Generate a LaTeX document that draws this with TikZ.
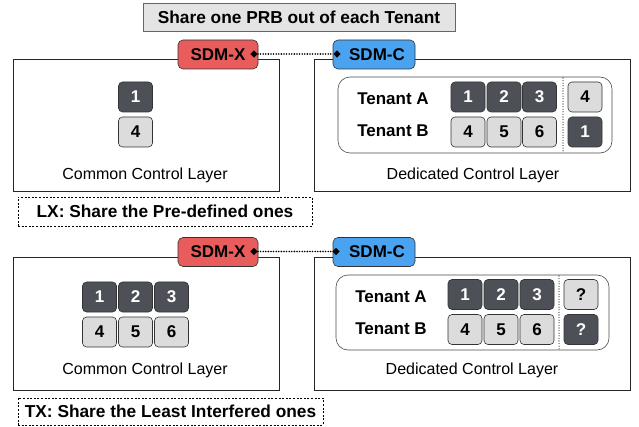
\documentclass[tikz,border=0pt]{standalone}
\usepackage{fontspec}
\setmainfont{Liberation Sans}
\usetikzlibrary{shapes.geometric}
\definecolor{sqdark}{HTML}{4D5157}
\definecolor{sqlight}{HTML}{DCDCDC}
\definecolor{sdmred}{HTML}{E85C5C}
\definecolor{sdmblue}{HTML}{4AA3F0}
\definecolor{titlegray}{HTML}{E4E4E4}
\tikzset{
  sq/.style={draw=black!80, rounded corners=4pt, minimum width=34pt, minimum height=30pt, inner sep=0pt, font=\fontsize{17}{17}\selectfont\bfseries, line width=0.6pt},
  dsq/.style={sq, fill=sqdark, text=white},
  lsq/.style={sq, fill=sqlight, text=black},
  tag/.style={draw=black!80, rounded corners=5pt, minimum height=29pt, inner sep=0pt, font=\fontsize{17}{17}\selectfont\bfseries, line width=0.6pt},
  layerbox/.style={draw=black!85, line width=1pt, fill=white},
  innerbox/.style={draw=black!70, rounded corners=12pt, line width=0.6pt},
  layertxt/.style={font=\fontsize{16}{16}\selectfont},
  tentxt/.style={font=\fontsize{17}{17}\selectfont\bfseries},
  notebox/.style={draw=black, dash pattern=on 2pt off 1.6pt, line width=0.8pt, font=\fontsize{17.3}{17.3}\selectfont\bfseries, inner sep=0pt},
  dmark/.style={diamond, fill=black, inner sep=0pt, minimum width=7.5pt, minimum height=7.5pt},
  dotlink/.style={line cap=round, dash pattern=on 0pt off 2.6pt, line width=1.8pt},
  sep/.style={line cap=round, dash pattern=on 0pt off 2.6pt, line width=1.1pt}
}
\begin{document}
\begin{tikzpicture}[x=1pt,y=-1pt]
\useasboundingbox (0,0) rectangle (639,427);
% title
\node[draw=black!60, fill=titlegray, line width=0.6pt, minimum width=312pt, minimum height=28pt, inner sep=0pt, font=\fontsize{17.3}{17.3}\selectfont\bfseries] (title) at (299,17.5) {Share one PRB out of each Tenant};

% ===== top half =====
\draw[layerbox] (13,60) rectangle (279,192);
\draw[layerbox] (314,60) rectangle (630,192);
\node[tag, fill=sdmred, minimum width=80pt] (sx1) at (218,54.5) {SDM-X\hspace{7pt}};
\node[tag, fill=sdmblue, minimum width=82pt] (sc1) at (374,54.5) {\hspace{6pt}SDM-C};
\node[dmark] (dx1) at (254,54) {};
\node[dmark] (dc1) at (337,54) {};
\draw[dotlink] (dx1) -- (dc1);

\node[dsq] (a1) at (135.5,97) {1};
\node[lsq] (a4) at (135.5,132) {4};
\node[layertxt] (cl1) at (145,175) {Common Control Layer};

\node[notebox, minimum width=294pt, minimum height=29pt] (lx) at (165,211.5) {LX: Share the Pre-defined ones};

\draw[innerbox] (338,77) rectangle (612,153);
\node[tentxt] (ta1) at (393,99) {Tenant A};
\node[tentxt] (tb1) at (393,131) {Tenant B};
\node[dsq] (p11) at (468,97) {1};
\node[dsq] (p12) at (504,97) {2};
\node[dsq] (p13) at (539.5,97) {3};
\node[lsq] (p14) at (585,97) {4};
\node[lsq] (p21) at (468,132) {4};
\node[lsq] (p22) at (504,132) {5};
\node[lsq] (p23) at (539.5,132) {6};
\node[dsq] (p24) at (585,132) {1};
\coordinate (s1t) at (563,78);
\coordinate (s1b) at (563,152);
\draw[sep] (s1t) -- (s1b);
\node[layertxt] (dl1) at (473,175) {Dedicated Control Layer};

% ===== bottom half =====
\draw[layerbox] (13,258) rectangle (279,390);
\draw[layerbox] (314,258) rectangle (630,390);
\node[tag, fill=sdmred, minimum width=80pt] (sx2) at (218,252) {SDM-X\hspace{7pt}};
\node[tag, fill=sdmblue, minimum width=82pt] (sc2) at (374,252) {\hspace{6pt}SDM-C};
\node[dmark] (dx2) at (254,251.5) {};
\node[dmark] (dc2) at (336,251.5) {};
\draw[dotlink] (dx2) -- (dc2);

\node[dsq] (b1) at (99.5,297) {1};
\node[dsq] (b2) at (135.5,297) {2};
\node[dsq] (b3) at (171.5,297) {3};
\node[lsq] (b4) at (99.5,332) {4};
\node[lsq] (b5) at (135.5,332) {5};
\node[lsq] (b6) at (171.5,332) {6};
\node[layertxt] (cl2) at (145,370) {Common Control Layer};

\node[notebox, minimum width=305pt, minimum height=27pt] (tx) at (170.5,411.5) {TX: Share the Least Interfered ones};

\draw[innerbox] (336,275) rectangle (609,350);
\node[tentxt] (ta2) at (391,297) {Tenant A};
\node[tentxt] (tb2) at (391,329) {Tenant B};
\node[dsq] (q11) at (465,294.5) {1};
\node[dsq] (q12) at (501,294.5) {2};
\node[dsq] (q13) at (537,294.5) {3};
\node[lsq] (q14) at (581,294.5) {?};
\node[lsq] (q21) at (465,329.5) {4};
\node[lsq] (q22) at (501,329.5) {5};
\node[lsq] (q23) at (537,329.5) {6};
\node[dsq] (q24) at (581,329.5) {?};
\coordinate (s2t) at (559,276);
\coordinate (s2b) at (559,349);
\draw[sep] (s2t) -- (s2b);
\node[layertxt] (dl2) at (472,370) {Dedicated Control Layer};
\end{tikzpicture}
\end{document}
